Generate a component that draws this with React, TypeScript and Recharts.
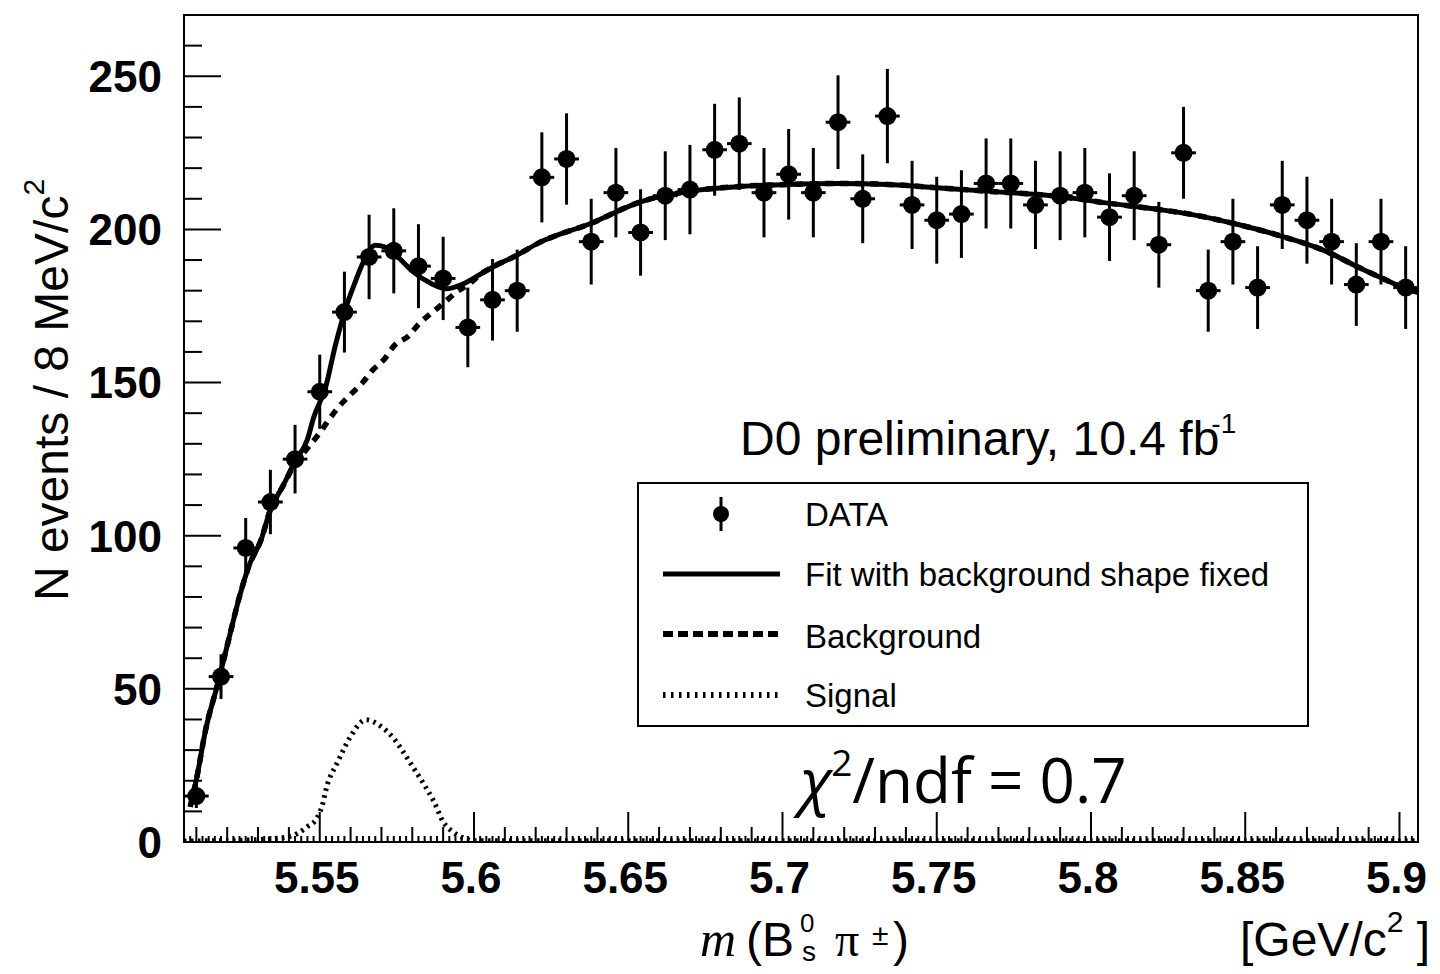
import React from 'react';
import { ComposedChart, Line, Scatter, ErrorBar, XAxis, YAxis, ReferenceArea } from 'recharts';

// bin centres of the 8 MeV bins, GeV/c^2
const binCenters = [
  5.510, 5.518, 5.526, 5.534, 5.542, 5.550, 5.558, 5.566, 5.574, 5.582,
  5.590, 5.598, 5.606, 5.614, 5.622, 5.630, 5.638, 5.646, 5.654, 5.662,
  5.670, 5.678, 5.686, 5.694, 5.702, 5.710, 5.718, 5.726, 5.734, 5.742,
  5.750, 5.758, 5.766, 5.774, 5.782, 5.790, 5.798, 5.806, 5.814, 5.822,
  5.830, 5.838, 5.846, 5.854, 5.862, 5.870, 5.878, 5.886, 5.894, 5.902,
];
const counts = [
  15, 54, 96, 111, 125, 147, 173, 191, 193, 188,
  184, 168, 177, 180, 217, 223, 196, 212, 199, 211,
  213, 226, 228, 212, 218, 212, 235, 210, 237, 208,
  203, 205, 215, 215, 208, 211, 212, 204, 211, 195,
  225, 180, 196, 181, 208, 203, 196, 182, 196, 181,
];
const countErrors = [
  3.9, 7.3, 9.8, 10.5, 11.2, 12.1, 13.2, 13.8, 13.9, 13.7,
  13.6, 13.0, 13.3, 13.4, 14.7, 14.9, 14.0, 14.6, 14.1, 14.5,
  14.6, 15.0, 15.1, 14.6, 14.8, 14.6, 15.3, 14.5, 15.4, 14.4,
  14.2, 14.3, 14.7, 14.7, 14.4, 14.5, 14.6, 14.3, 14.5, 14.0,
  15.0, 13.4, 14.0, 13.5, 14.4, 14.2, 14.0, 13.5, 14.0, 13.5,
];
const binHalfWidth = 0.004;

// full fit
const fitX = [
  5.508, 5.510, 5.513, 5.517, 5.521, 5.524, 5.527, 5.531, 5.534, 5.538,
  5.542, 5.546, 5.548, 5.552, 5.555, 5.559, 5.561, 5.564, 5.568, 5.571,
  5.575, 5.580, 5.586, 5.591, 5.596, 5.602, 5.607, 5.613, 5.621, 5.638,
  5.654, 5.670, 5.686, 5.702, 5.718, 5.734, 5.750, 5.766, 5.790, 5.806,
  5.822, 5.832, 5.846, 5.861, 5.877, 5.886, 5.893, 5.902, 5.906,
];
const fitY = [
  11.5, 20.3, 36.6, 51.9, 68.2, 80.2, 90, 98.7, 108.5, 116.1,
  124.3, 131.4, 138.5, 148.8, 161.9, 176, 181.5, 189.1, 194.8, 194.3,
  191.3, 186.4, 182.4, 180.6, 182, 185.3, 188.2, 191.1, 195.6, 202,
  209, 212.5, 214, 214.7, 215, 214.7, 213.6, 212.5, 210.7, 208.5,
  206.5, 205, 202, 198, 192.5, 188, 184.7, 180.7, 179.5,
];

// background component
const bkgX = [
  5.508, 5.510, 5.513, 5.517, 5.521, 5.524, 5.527, 5.531, 5.534, 5.538,
  5.542, 5.546, 5.550, 5.553, 5.556, 5.560, 5.564, 5.567, 5.571, 5.574,
  5.579, 5.582, 5.586, 5.590, 5.594, 5.599, 5.602, 5.607, 5.613, 5.621,
  5.638, 5.654, 5.670, 5.686, 5.702, 5.718, 5.734, 5.750, 5.766, 5.790,
  5.806, 5.822, 5.832, 5.846, 5.861, 5.877, 5.886, 5.893, 5.902, 5.906,
];
const bkgY = [
  11.5, 20.3, 36.6, 51.9, 68.2, 80.2, 90, 98.7, 108.5, 116.1,
  123.5, 128.5, 133.6, 137.9, 141.9, 146.1, 150.1, 153.9, 157.7, 161.9,
  165.4, 169, 172.5, 175.8, 179.3, 182.6, 185.3, 188.2, 191.1, 195.6,
  202, 209, 212.5, 214, 214.7, 215, 214.7, 213.6, 212.5, 210.7,
  208.5, 206.5, 205, 202, 198, 192.5, 188, 184.7, 180.7, 179.5,
];

// signal component
const sigX = [
  5.506, 5.520, 5.530, 5.540, 5.546, 5.549, 5.551, 5.552, 5.556, 5.560,
  5.565, 5.570, 5.574, 5.577, 5.580, 5.584, 5.587, 5.590, 5.593, 5.597,
  5.600, 5.650, 5.750, 5.906,
];
const sigY = [
  0.3, 0.5, 0.8, 1.7, 5.0, 7.7, 12.6, 17.0, 26.5, 34.5,
  39.9, 37.6, 33.8, 29.5, 24.8, 18.5, 13.2, 6.6, 3.4, 1.2,
  0.4, 0.4, 0.4, 0.4,
];

const xDomain = [5.506, 5.906];
const yDomain = [0, 270];
const xMajorTicks = [5.55, 5.6, 5.65, 5.7, 5.75, 5.8, 5.85, 5.9];
const xTickLabels = ['5.55', '5.6', '5.65', '5.7', '5.75', '5.8', '5.85', '5.9'];
const yMajorTicks = [0, 50, 100, 150, 200, 250];
const yTickLabels = ['0', '50', '100', '150', '200', '250'];

const xTicks: number[] = [];
for (let i = 5508; i <= 5904; i += 2) xTicks.push(i / 1000);
const yTicks: number[] = [];
for (let v = 0; v <= 260; v += 10) yTicks.push(v);

const points = binCenters.map((x, i) => ({ x, y: counts[i], ey: countErrors[i], ex: binHalfWidth }));
const fitData = fitX.map((x, i) => ({ x, y: fitY[i] }));
const bkgData = bkgX.map((x, i) => ({ x, y: bkgY[i] }));
const sigData = sigX.map((x, i) => ({ x, y: sigY[i] }));

const SANS = '"Liberation Sans", Arial, Helvetica, sans-serif';
const SERIF = '"Liberation Serif", "Times New Roman", serif';

function XTick({ x, y, payload }: any) {
  const k = Math.round(payload.value * 1000);
  const len = k % 50 === 0 ? 30 : k % 10 === 0 ? 15 : 6;
  const idx = xMajorTicks.findIndex((t) => Math.abs(t - payload.value) < 1e-6);
  return (
    <g>
      <line x1={x} x2={x} y1={y} y2={y - len} stroke="#000" strokeWidth={2} />
      {idx >= 0 && (
        <text x={x - 3} y={y + 51} textAnchor="middle" fontFamily={SANS} fontWeight="bold" fontSize={44} fill="#000">
          {xTickLabels[idx]}
        </text>
      )}
    </g>
  );
}

function YTick({ x, y, payload }: any) {
  const v = payload.value;
  const len = v % 50 === 0 ? 37 : 18;
  const idx = yMajorTicks.indexOf(v);
  return (
    <g>
      {v > 0 && <line x1={x} x2={x + len} y1={y} y2={y} stroke="#000" strokeWidth={2} />}
      {idx >= 0 && (
        <text x={x - 22} y={y} dy="0.36em" textAnchor="end" fontFamily={SANS} fontWeight="bold" fontSize={44} fill="#000">
          {yTickLabels[idx]}
        </text>
      )}
    </g>
  );
}

const Dot = (props: any) => <circle cx={props.cx} cy={props.cy} r={9} fill="#000" />;

export default function App() {
  return (
    <div style={{ position: 'relative', width: 1424, height: 958 }}>
      <ComposedChart width={1424} height={958} margin={{ top: 7, right: 14, bottom: 0, left: 0 }}>
        <XAxis
          type="number"
          dataKey="x"
          domain={xDomain}
          allowDataOverflow
          ticks={xTicks}
          interval={0}
          tickSize={0}
          tickMargin={0}
          tickLine={false}
          tick={(p: any) => <XTick {...p} />}
          axisLine={{ stroke: '#000', strokeWidth: 2 }}
          height={124}
        />
        <YAxis
          type="number"
          dataKey="y"
          domain={yDomain}
          allowDataOverflow
          ticks={yTicks}
          interval={0}
          tickSize={0}
          tickMargin={0}
          tickLine={false}
          tick={(p: any) => <YTick {...p} />}
          axisLine={{ stroke: '#000', strokeWidth: 2 }}
          width={176}
        />
        <ReferenceArea x1={xDomain[0]} x2={xDomain[1]} y1={yDomain[0]} y2={yDomain[1]} fill="none" stroke="#000" strokeWidth={2} />
        <Line data={sigData} dataKey="y" type="monotone" stroke="#000" strokeWidth={5} strokeDasharray="2.5 4.5" dot={false} isAnimationActive={false} />
        <Line data={bkgData} dataKey="y" type="monotone" stroke="#000" strokeWidth={5.5} strokeDasharray="8 7" dot={false} isAnimationActive={false} />
        <Line data={fitData} dataKey="y" type="monotone" stroke="#000" strokeWidth={5} dot={false} isAnimationActive={false} />
        <Scatter data={points} dataKey="y" shape={Dot} isAnimationActive={false}>
          <ErrorBar dataKey="ey" direction="y" width={0} stroke="#000" strokeWidth={3} />
          <ErrorBar dataKey="ex" direction="x" width={0} stroke="#000" strokeWidth={3} />
        </Scatter>
      </ComposedChart>
      <svg width={1424} height={958} style={{ position: 'absolute', left: 0, top: 0, pointerEvents: 'none', overflow: 'visible' }}>
        <g transform="translate(-8,-8)" fill="#000">
          <text transform="translate(68,390) rotate(-90)" textAnchor="middle" fontFamily={SANS} fontSize={48}>
            N events / 8 MeV/c<tspan fontSize={30} dy={-24}>2</tspan>
          </text>
          <text x={700} y={956} fontFamily={SERIF} fontStyle="italic" fontSize={50}>m</text>
          <text x={746} y={956} fontFamily={SANS} fontSize={48}>(B</text>
          <text x={800} y={932} fontFamily={SANS} fontSize={26}>0</text>
          <text x={802} y={961} fontFamily={SANS} fontSize={28}>s</text>
          <text x={835} y={956} fontFamily={SERIF} fontSize={48}>π</text>
          <text x={872} y={945} fontFamily={SANS} fontSize={30}>±</text>
          <text x={893} y={956} fontFamily={SANS} fontSize={48}>)</text>
          <text x={1240} y={956} fontFamily={SANS} fontSize={48}>
            [GeV/c<tspan fontSize={30} dy={-24}>2</tspan><tspan dy={24}> ]</tspan>
          </text>
          <text x={740} y={455} fontFamily={SANS} fontSize={48}>
            D0 preliminary, 10.4 fb<tspan fontSize={28} dx={-8} dy={-22}>-1</tspan>
          </text>
          <rect x={638} y={483} width={670} height={243} fill="#fff" stroke="#000" strokeWidth={2} />
          <line x1={721} x2={721} y1={497} y2={531} stroke="#000" strokeWidth={3} />
          <circle cx={721} cy={514} r={8} />
          <line x1={663} x2={780} y1={574} y2={574} stroke="#000" strokeWidth={5} />
          <line x1={663} x2={780} y1={634} y2={634} stroke="#000" strokeWidth={6} strokeDasharray="10 5" />
          <line x1={663} x2={780} y1={695} y2={695} stroke="#000" strokeWidth={6} strokeDasharray="2.5 5.5" />
          <text x={805} y={526} fontFamily={SANS} fontSize={33}>DATA</text>
          <text x={805} y={586} fontFamily={SANS} fontSize={33}>Fit with background shape fixed</text>
          <text x={805} y={648} fontFamily={SANS} fontSize={33}>Background</text>
          <text x={805} y={707} fontFamily={SANS} fontSize={33}>Signal</text>
          <text x={800} y={803} fontFamily={'"Open Sans", sans-serif'} fontSize={62}>
            <tspan fontStyle="italic">χ</tspan>
            <tspan fontSize={37} dy={-27}>2</tspan>
            <tspan dy={27}>/ndf = 0.7</tspan>
          </text>
        </g>
      </svg>
    </div>
  );
}
